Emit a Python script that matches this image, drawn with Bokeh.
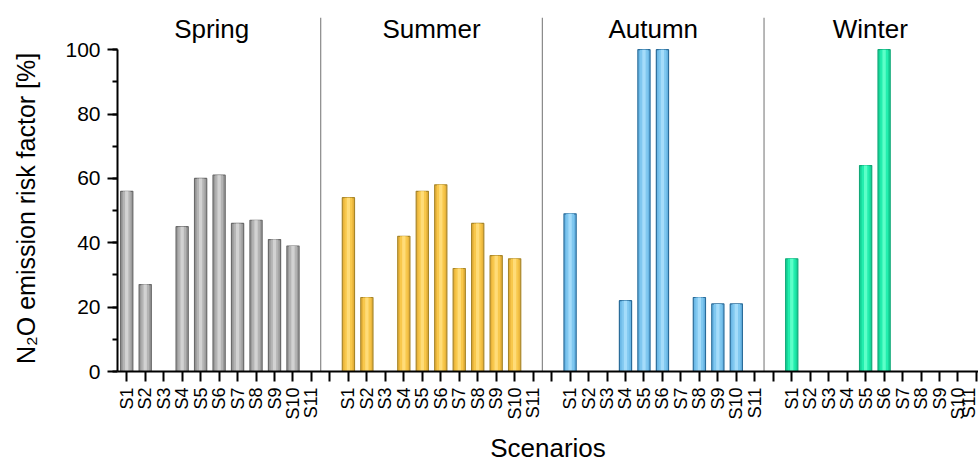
from math import pi
from bokeh.plotting import figure
from bokeh.models import Range1d, FixedTicker, SingleIntervalTicker, Label, ColumnDataSource
from bokeh.embed import file_html
from bokeh.resources import INLINE

# ---- data ----
seasons = ["Spring", "Summer", "Autumn", "Winter"]
scenarios = ["S1", "S2", "S3", "S4", "S5", "S6", "S7", "S8", "S9", "S10", "S11"]
spring = [56, 27, 0, 45, 60, 61, 46, 47, 41, 39, 0]
summer = [54, 23, 0, 42, 56, 58, 32, 46, 36, 35, 0]
autumn = [49, 0, 0, 22, 100, 100, 0, 23, 21, 21, 0]
winter = [35, 0, 0, 0, 64, 100, 0, 0, 0, 0, 0]
y_ticks = [0, 20, 40, 60, 80, 100]

series = [spring, summer, autumn, winter]
# styles: (edge, fill, mid, highlight)
styles = [
    ("#6a6a6a", "#9c9c9c", "#b4b4b4", "#d2d2d2"),
    ("#a8862a", "#eab53c", "#f8c84c", "#ffdc78"),
    ("#2a6c9a", "#6bb8e6", "#80c8f0", "#a4dcfa"),
    ("#12a878", "#16d89a", "#22eeae", "#5cffc8"),
]
title_x = [4.6, 16.5, 28.5, 40.25]

FONT = "Liberation Sans"
slot = len(scenarios) + 1

p = figure(frame_width=861, frame_height=354, output_backend="svg", toolbar_location=None,
           x_range=Range1d(-0.5, 46.11), y_range=Range1d(0, 110),
           min_border_left=117, min_border_right=0, min_border_top=17,
           min_border_bottom=86)
p.outline_line_color = None
p.xgrid.visible = False
p.ygrid.visible = False
p.background_fill_color = "white"

positions = []
labels = {}
for g, vals in enumerate(series):
    xs = [g * slot + i for i in range(len(scenarios))]
    for i, x in enumerate(xs):
        labels[x] = scenarios[i]
    positions += xs
    if g < len(series) - 1:
        labels[g * slot + len(scenarios)] = ""
    px = [x for x, v in zip(xs, vals) if v > 0]
    pv = [v for v in vals if v > 0]
    src = ColumnDataSource(dict(x=px, top=pv))
    edge, fill, mid, hi = styles[g]
    p.vbar(x="x", top="top", bottom=0, width=0.66, source=src,
           fill_color=fill, line_color=edge, line_width=1.2)
    p.vbar(x="x", top="top", bottom=0, width=0.42, source=src,
           fill_color=mid, line_color=None)
    p.vbar(x="x", top="top", bottom=0, width=0.18, source=src,
           fill_color=hi, line_color=None)
    p.add_layout(Label(x=title_x[g], y=106.3, text=seasons[g], text_font=FONT,
                       text_font_size="26px", text_align="center",
                       text_baseline="middle", text_color="black"))

# separators
sep_x = [g * slot - 1.5 for g in range(1, len(series))]
p.segment(x0=sep_x, y0=[0] * len(sep_x), x1=sep_x, y1=[110] * len(sep_x),
          line_color="#888888", line_width=1.2)

ticks = sorted(labels.keys())
p.xaxis.ticker = FixedTicker(ticks=ticks)
p.xaxis.major_label_overrides = {t: labels[t] for t in ticks}
p.xaxis.major_label_orientation = pi / 2
p.xaxis.major_label_text_font = FONT
p.xaxis.major_label_text_font_size = "18px"
p.xaxis.major_label_text_color = "black"
p.xaxis.major_label_standoff = 6
p.xaxis.major_tick_out = 10
p.xaxis.major_tick_in = 0
p.xaxis.minor_tick_line_color = None
p.xaxis.axis_line_width = 2
p.xaxis.major_tick_line_width = 2
p.xaxis.axis_line_color = "black"
p.xaxis.major_tick_line_color = "black"
p.xaxis.axis_label = "Scenarios"
p.xaxis.axis_label_text_font = FONT
p.xaxis.axis_label_text_font_size = "26px"
p.xaxis.axis_label_text_font_style = "normal"
p.xaxis.axis_label_text_color = "black"
p.xaxis.axis_label_standoff = 10

p.yaxis.ticker = SingleIntervalTicker(interval=20, num_minor_ticks=2)
p.yaxis.bounds = (0, 100)
p.yaxis.major_label_text_font = FONT
p.yaxis.major_label_text_font_size = "21px"
p.yaxis.major_label_text_color = "black"
p.yaxis.major_label_standoff = 7
p.yaxis.major_tick_out = 10
p.yaxis.major_tick_in = 0
p.yaxis.minor_tick_out = 5
p.yaxis.minor_tick_in = 0
p.yaxis.axis_line_width = 2
p.yaxis.major_tick_line_width = 2
p.yaxis.minor_tick_line_width = 2
p.yaxis.axis_line_color = "black"
p.yaxis.axis_label = "N\u2082O emission risk factor [%]" + "\u00a0" * 4
p.yaxis.axis_label_text_font = FONT
p.yaxis.axis_label_text_font_size = "25px"
p.yaxis.axis_label_text_font_style = "normal"
p.yaxis.axis_label_text_color = "black"
p.yaxis.axis_label_standoff = 22

open("out.html", "w").write(file_html(p, INLINE))
